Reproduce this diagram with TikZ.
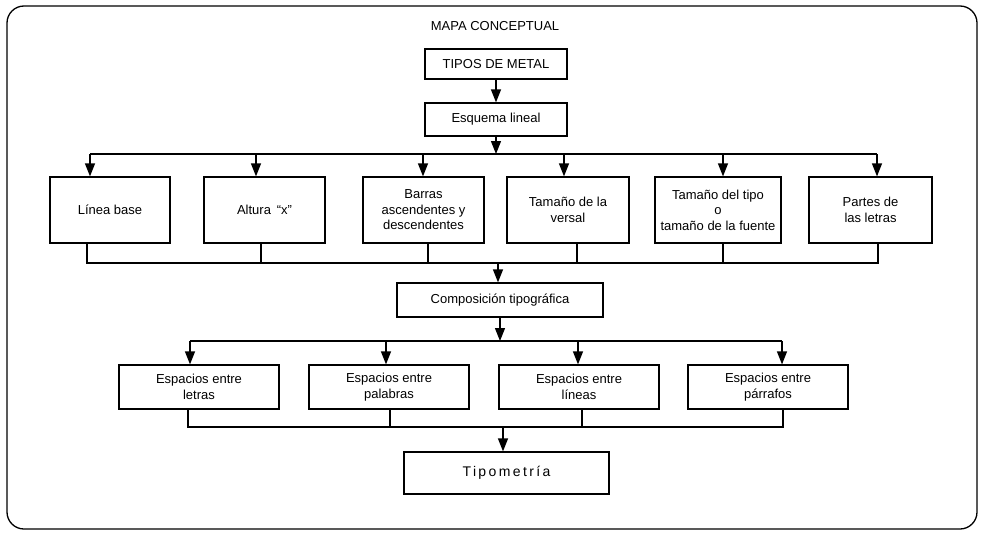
\documentclass[tikz,border=0pt]{standalone}
\usepackage{fontspec}
\setmainfont{Liberation Sans}
\usetikzlibrary{arrows.meta}
\begin{document}
\begin{tikzpicture}[x=1pt,y=-1pt,
  box/.style={draw, line width=1.2pt, align=center, inner sep=0pt,
    font=\fontsize{13}{15.5}\selectfont},
  wire/.style={line width=1.2pt},
  arr/.style={wire, -{Triangle[length=13pt,width=10pt]}}]
\useasboundingbox (0,0) rectangle (982,533);

% outer frame and title
\draw[line width=1.3pt, rounded corners=17pt] (7,6) rectangle (977,529);
\node[font=\fontsize{13}{15}\selectfont] (title) at (495,26) {MAPA CONCEPTUAL};

% top chain
\node[box, minimum width=142pt, minimum height=30pt] (tipos) at (496,64) {TIPOS DE METAL};
\node[box, minimum width=142pt, minimum height=33pt] (esq) at (496,119.5) {Esquema lineal};

% first row of concepts
\node[box, minimum width=120pt, minimum height=66pt] (lb)  at (110,210)   {Línea base};
\node[box, minimum width=121pt, minimum height=66pt] (alt) at (264.5,210) {Altura \,“x”};
\node[box, minimum width=121pt, minimum height=66pt] (bar) at (423.5,210) {Barras\\ascendentes y\\descendentes};
\node[box, minimum width=122pt, minimum height=66pt] (tv)  at (568,210)   {Tamaño de la\\versal};
\node[box, minimum width=126pt, minimum height=66pt] (tt)  at (718,210)   {Tamaño del tipo\\o\\tamaño de la fuente};
\node[box, minimum width=123pt, minimum height=66pt] (pl)  at (870.5,210) {Partes de\\las letras};

% composition
\node[box, minimum width=206pt, minimum height=34pt] (comp) at (500,300) {Composición tipográfica};

% second row of concepts
\node[box, minimum width=160pt, minimum height=44pt] (el)  at (199,387) {Espacios entre\\letras};
\node[box, minimum width=160pt, minimum height=44pt] (ep)  at (389,387) {Espacios entre\\palabras};
\node[box, minimum width=160pt, minimum height=44pt] (eli) at (579,387) {Espacios entre\\líneas};
\node[box, minimum width=160pt, minimum height=44pt] (epa) at (768,387) {Espacios entre\\párrafos};

% result
\node[box, minimum width=205pt, minimum height=42pt,
  font=\fontsize{14}{16}\selectfont\addfontfeature{LetterSpace=17}] (tip) at (506.5,473) {Tipometría};

% bus levels
\coordinate (busA)  at (0,154);
\coordinate (joinA) at (0,263);
\coordinate (busB)  at (0,341);
\coordinate (joinB) at (0,427);

% TIPOS DE METAL -> Esquema lineal
\draw[arr] (tipos.south) -- (esq.north);

% Esquema lineal -> first row
\draw[arr] (esq.south) -- (esq.south |- busA);
\draw[wire] ([xshift=-20pt]lb.north |- busA) -- ([xshift=6.5pt]pl.north |- busA);
\draw[arr] ([xshift=-20pt]lb.north |- busA) -- ([xshift=-20pt]lb.north);
\draw[arr] ([xshift=-8.5pt]alt.north |- busA) -- ([xshift=-8.5pt]alt.north);
\draw[arr] ([xshift=-0.5pt]bar.north |- busA) -- ([xshift=-0.5pt]bar.north);
\draw[arr] ([xshift=-4pt]tv.north |- busA) -- ([xshift=-4pt]tv.north);
\draw[arr] ([xshift=5pt]tt.north |- busA) -- ([xshift=5pt]tt.north);
\draw[arr] ([xshift=6.5pt]pl.north |- busA) -- ([xshift=6.5pt]pl.north);

% first row -> Composición tipográfica
\draw[wire] ([xshift=-23pt]lb.south) -- ([xshift=-23pt]lb.south |- joinA)
  -- ([xshift=7.5pt]pl.south |- joinA) -- ([xshift=7.5pt]pl.south);
\draw[wire] ([xshift=-3.5pt]alt.south) -- ([xshift=-3.5pt]alt.south |- joinA);
\draw[wire] ([xshift=4.5pt]bar.south) -- ([xshift=4.5pt]bar.south |- joinA);
\draw[wire] ([xshift=9pt]tv.south) -- ([xshift=9pt]tv.south |- joinA);
\draw[wire] ([xshift=5pt]tt.south) -- ([xshift=5pt]tt.south |- joinA);
\draw[arr] ([xshift=-2pt]comp.north |- joinA) -- ([xshift=-2pt]comp.north);

% Composición tipográfica -> second row
\draw[arr] (comp.south) -- (comp.south |- busB);
\draw[wire] ([xshift=-9pt]el.north |- busB) -- ([xshift=14pt]epa.north |- busB);
\draw[arr] ([xshift=-9pt]el.north |- busB) -- ([xshift=-9pt]el.north);
\draw[arr] ([xshift=-3pt]ep.north |- busB) -- ([xshift=-3pt]ep.north);
\draw[arr] ([xshift=-1pt]eli.north |- busB) -- ([xshift=-1pt]eli.north);
\draw[arr] ([xshift=14pt]epa.north |- busB) -- ([xshift=14pt]epa.north);

% second row -> Tipometría
\draw[wire] ([xshift=-11pt]el.south) -- ([xshift=-11pt]el.south |- joinB)
  -- ([xshift=15pt]epa.south |- joinB) -- ([xshift=15pt]epa.south);
\draw[wire] ([xshift=1pt]ep.south) -- ([xshift=1pt]ep.south |- joinB);
\draw[wire] ([xshift=3pt]eli.south) -- ([xshift=3pt]eli.south |- joinB);
\draw[arr] ([xshift=-3.5pt]tip.north |- joinB) -- ([xshift=-3.5pt]tip.north);
\end{tikzpicture}
\end{document}
